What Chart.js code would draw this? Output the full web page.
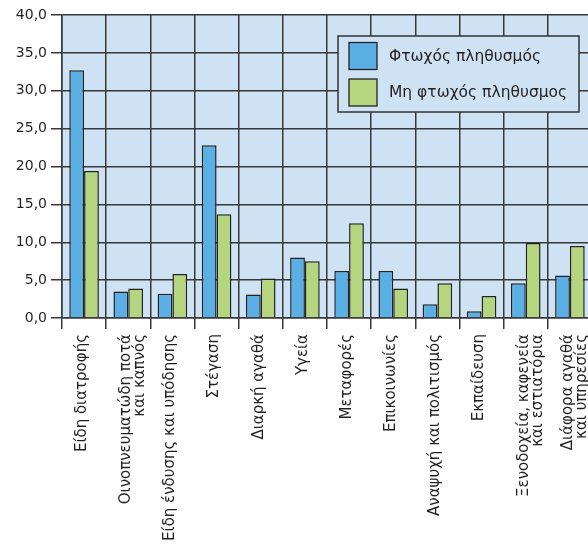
<!DOCTYPE html>
<html>
<head>
<meta charset="utf-8">
<script src="https://cdn.jsdelivr.net/npm/chart.js@4"></script>
<style>
  html, body { margin: 0; padding: 0; background: #fff; overflow: hidden; }
  canvas { display: block; }
</style>
</head>
<body>
<canvas id="grafico" width="592" height="549"></canvas>
<script>
// Κατηγορίες δαπανών
const categories = [
  "Είδη διατροφής",
  ["Οινοπνευματώδη ποτά", "και καπνός"],
  "Είδη ένδυσης και υπόδησης",
  "Στέγαση",
  "Διαρκή αγαθά",
  "Υγεία",
  "Μεταφορές",
  "Επικοινωνίες",
  "Αναψυχή και πολιτισμός",
  "Εκπαίδευση",
  ["Ξενοδοχεία, καφενεία", "και εστιατόρια"],
  ["Διάφορα αγαθά", "και υπηρεσίες"]
];
const seriesNames = ["Φτωχός πληθυσμός", "Μη φτωχός πληθυσμος"];
const poorValues = [32.7, 3.5, 3.2, 22.8, 3.1, 8.0, 6.2, 6.2, 1.8, 0.9, 4.6, 5.6];
const nonPoorValues = [19.4, 3.9, 5.8, 13.7, 5.2, 7.5, 12.5, 3.9, 4.6, 2.9, 9.9, 9.5];
const yTicks = [0, 5, 10, 15, 20, 25, 30, 35, 40];

const FONT = "'DejaVu Sans', sans-serif";
const BG = "#cfe2f3";
const GRID = "#383838";

// Φόντο περιοχής γραφήματος + υπόμνημα μέσα στο γράφημα
const plotBg = {
  id: "plotBg",
  beforeDraw(chart) {
    const { ctx, chartArea: a } = chart;
    ctx.save();
    ctx.fillStyle = BG;
    ctx.fillRect(a.left, a.top, a.right - a.left, a.bottom - a.top);
    ctx.restore();
  },
  afterDraw(chart) {
    const ctx = chart.ctx;
    const x = 338, y = 36, w = 241, h = 76;
    ctx.save();
    ctx.fillStyle = BG;
    ctx.fillRect(x, y, w, h);
    ctx.strokeStyle = "#333";
    ctx.lineWidth = 1.5;
    ctx.strokeRect(x, y, w, h);
    chart.data.datasets.forEach((ds, i) => {
      const sy = y + 6.5 + i * 36.5;
      ctx.fillStyle = ds.backgroundColor;
      ctx.fillRect(x + 11, sy, 28, 27);
      ctx.strokeStyle = "#222";
      ctx.lineWidth = 1.3;
      ctx.strokeRect(x + 11, sy, 28, 27);
      ctx.fillStyle = "#231f20";
      ctx.font = "15.5px " + FONT;
      ctx.textBaseline = "middle";
      ctx.textAlign = "left";
      ctx.fillText(ds.label, x + 51, sy + 14);
    });
    ctx.restore();
  }
};

new Chart(document.getElementById("grafico"), {
  type: "bar",
  data: {
    labels: categories,
    datasets: [
      {
        label: seriesNames[0],
        data: poorValues,
        backgroundColor: "#5ab0e4",
        borderColor: "#222",
        borderWidth: 1.5
      },
      {
        label: seriesNames[1],
        data: nonPoorValues,
        backgroundColor: "#b5d67f",
        borderColor: "#222",
        borderWidth: 1.5
      }
    ]
  },
  options: {
    responsive: false,
    animation: false,
    layout: { padding: { top: 15, right: 0, left: 0, bottom: 0 } },
    plugins: {
      legend: { display: false },
      tooltip: { enabled: false }
    },
    datasets: {
      bar: { categoryPercentage: 0.67, barPercentage: 1.0 }
    },
    scales: {
      x: {
        offset: true,
        grid: {
          offset: true,
          color: GRID,
          lineWidth: 1.5,
          tickLength: 11,
          drawTicks: true
        },
        border: { display: true, color: GRID, width: 1.5 },
        ticks: {
          color: "#231f20",
          font: { family: FONT, size: 15, lineHeight: 0.95 },
          maxRotation: 90,
          minRotation: 90,
          padding: 5,
          labelOffset: -2,
          autoSkip: false
        },
        afterFit(scale) {
          scale.height = 231;
          scale.paddingLeft = 0;
          scale.paddingRight = 0;
        }
      },
      y: {
        min: 0,
        max: 40,
        afterBuildTicks(scale) {
          scale.ticks = yTicks.map(v => ({ value: v }));
        },
        grid: {
          color: GRID,
          lineWidth: 1.5,
          tickLength: 11
        },
        border: { display: true, color: GRID, width: 1.5 },
        ticks: {
          color: "#231f20",
          font: { family: FONT, size: 14 },
          padding: 4,
          callback: v => v.toFixed(1).replace(".", ",")
        },
        afterFit(scale) { scale.width = 62; }
      }
    }
  },
  plugins: [plotBg]
});
</script>
</body>
</html>
